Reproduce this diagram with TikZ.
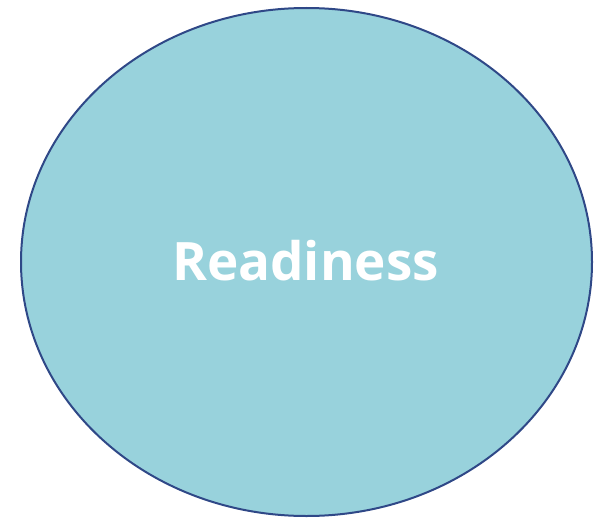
\documentclass[tikz,border=0pt]{standalone}
\usepackage{fontspec}
\setmainfont{Open Sans}
\usetikzlibrary{shapes.geometric}
\definecolor{ReadyFill}{RGB}{152,210,220}
\definecolor{ReadyLine}{RGB}{47,72,135}

\begin{document}
\begin{tikzpicture}[
        x=1pt,y=-1pt,
        ReadyCfg/.style={
            ellipse,
            draw=ReadyLine,
            line width=2pt,
            fill=ReadyFill,
            minimum width=571pt,
            minimum height=508pt,
            inner sep=0pt
        }
    ]
    \useasboundingbox (0,0) rectangle (605,519);
    
    % ellipse
    \node[ReadyCfg] (Ready) at (306.5,262) {};
    \node[text=white,anchor=base,font=\bfseries\fontsize{53}{60}\selectfont] (ReadyText) at (305.5,280) {Readiness};
    
\end{tikzpicture}
\end{document}
